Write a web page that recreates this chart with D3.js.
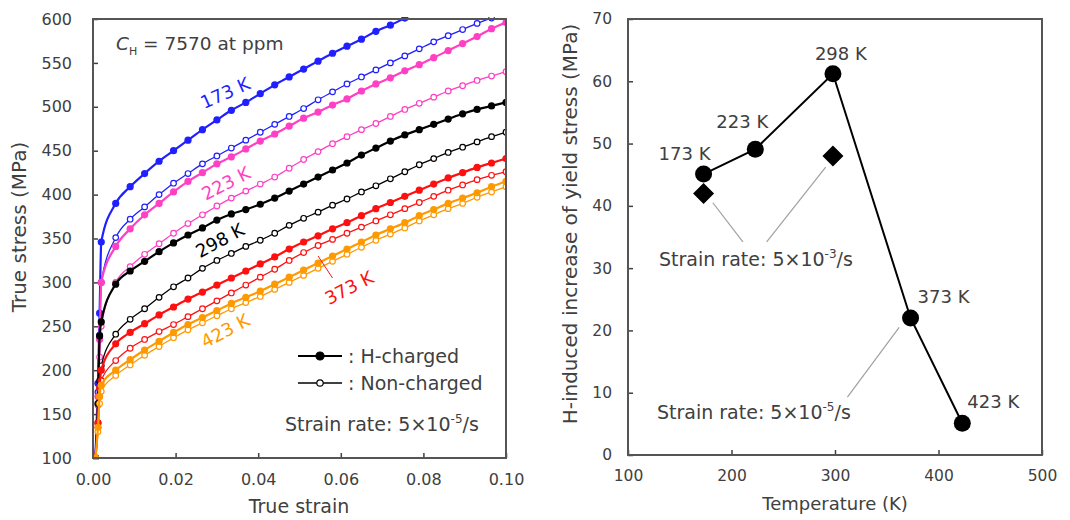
<!DOCTYPE html>
<html>
<head>
<meta charset="utf-8">
<script src="https://cdn.jsdelivr.net/npm/d3@7"></script>
<style type="text/css">
  body {
    margin: 0px;
    background: white;
  }
  svg text {
    font-family: 'DejaVu Sans', 'Liberation Sans', sans-serif;
    fill: #404040;
  }
  .axis path { display: none; }
  .axis line { stroke: #404040; stroke-width: 1.5; }
  .frame { fill: none; stroke: #555; stroke-width: 2; }
</style>
</head>
<body>
<svg id="chart" width="1070" height="520"></svg>
<script>

// ---- left panel: true stress-strain curves ----
var strain = [0.0006, 0.0012, 0.0016, 0.002, 0.0055, 0.009, 0.0125, 0.016, 0.0195, 0.023,
  0.0265, 0.03, 0.0335, 0.037, 0.0405, 0.044, 0.0475, 0.051, 0.0545, 0.058, 0.0615,
  0.065, 0.0685, 0.072, 0.0755, 0.079, 0.0825, 0.086, 0.0895, 0.093, 0.0965, 0.10];

var h173 = [100, 185, 265, 346, 390, 409, 424, 438, 450, 462, 474, 485, 496, 505, 515, 525,
  534, 543, 552, 561, 569, 577, 586, 593, 601, null, null, null, null, null, null, null];
var n173 = [100, 175, 240, 300, 351, 372, 386, 400, 413, 424, 435, 444, 453, 462, 471, 480,
  489, 498, 508, 517, 526, 534, 542, 550, 558, 566, 574, 581, 588, 595, 601, null];
var h223 = [100, 170, 235, 300, 341, 361, 377, 390, 403, 415, 425, 435, 443, 452, 461, 469,
  478, 487, 494, 502, 509, 518, 526, 533, 541, 548, 556, 564, 572, 580, 589, 596];
var n223 = [100, 160, 215, 250, 300, 318, 332, 344, 356, 367, 377, 387, 396, 404, 412, 420,
  430, 440, 449, 458, 466, 474, 481, 489, 497, 504, 511, 518, 524, 530, 535, 540];
var h298 = [100, 162, 239, 255, 298, 313, 324, 335, 345, 354, 362, 371, 378, 383, 389, 396,
  404, 412, 420, 428, 436, 445, 453, 461, 468, 474, 480, 486, 492, 497, 501, 505];
var n298 = [100, 140, 188, 205, 241, 258, 270, 283, 295, 305, 316, 325, 333, 341, 348, 356,
  365, 373, 380, 388, 395, 403, 410, 418, 426, 434, 441, 448, 454, 460, 466, 471];
var h373 = [100, 140, 180, 200, 230, 243, 253, 263, 272, 281, 289, 297, 305, 313, 321, 329,
  338, 346, 353, 361, 368, 376, 384, 391, 398, 405, 412, 419, 425, 431, 436, 441];
var n373 = [100, 135, 170, 188, 211, 225, 235, 244, 252, 261, 270, 279, 288, 297, 306, 315,
  325, 334, 342, 349, 356, 363, 370, 377, 384, 391, 398, 405, 411, 417, 422, 426];
var h423 = [100, 135, 170, 183, 200, 212, 223, 233, 243, 252, 260, 268, 276, 283, 290, 298,
  306, 314, 322, 330, 338, 346, 354, 361, 368, 376, 383, 390, 396, 402, 409, 415];
var n423 = [100, 130, 162, 176, 194, 206, 217, 227, 237, 246, 254, 262, 270, 277, 284, 292,
  300, 308, 316, 324, 332, 340, 348, 355, 362, 370, 377, 384, 390, 397, 403, 409];

var strainTicks = [0, 0.02, 0.04, 0.06, 0.08, 0.10];
var stressTicks = [100, 150, 200, 250, 300, 350, 400, 450, 500, 550, 600];

// ---- right panel: H-induced increase of yield stress ----
var temps = [173, 223, 298, 373, 423];
var increase = [45.1, 49.1, 61.2, 22.0, 5.1];
var tempLabels = ['173 K', '223 K', '298 K', '373 K', '423 K'];
var fastTemps = [173, 298];
var fastIncrease = [42.0, 48.0];

var tempTicks = [100, 200, 300, 400, 500];
var increaseTicks = [0, 10, 20, 30, 40, 50, 60, 70];


var svg = d3.select('#chart');

var curves = [
  { label: '173 K', color: '#1f1fff', h: h173, n: n173, at: [0.032, 516], rot: -24 },
  { label: '223 K', color: '#ff3fc4', h: h223, n: n223, at: [0.0322, 413], rot: -27 },
  { label: '298 K', color: '#000000', h: h298, n: n298, at: [0.0307, 348], rot: -28 },
  { label: '373 K', color: '#ff1010', h: h373, n: n373, at: [0.062, 294], rot: -27 },
  { label: '423 K', color: '#ff9900', h: h423, n: n423, at: [0.032, 245], rot: -28 }
];

var x1 = d3.scaleLinear().domain([0, 0.10]).range([93, 506]);
var y1 = d3.scaleLinear().domain([100, 600]).range([458, 19]);

svg.append('defs').append('clipPath').attr('id', 'clipLeft')
  .append('rect').attr('x', 93).attr('y', 17).attr('width', 413).attr('height', 443);

var left = svg.append('g');

left.append('g')
  .attr('class', 'axis')
  .attr('transform', 'translate(0,458)')
  .call(d3.axisBottom(x1).tickValues(strainTicks).tickFormat(d3.format('.2f'))
    .tickSize(-5).tickPadding(16))
  .selectAll('text').style('font-size', '16px');

left.append('g')
  .attr('class', 'axis')
  .attr('transform', 'translate(93,0)')
  .call(d3.axisLeft(y1).tickValues(stressTicks).tickSize(-5).tickPadding(21))
  .selectAll('text').style('font-size', '16px');

var line = d3.line()
  .defined(function(d) { return d[1] != null; })
  .x(function(d) { return x1(d[0]); })
  .y(function(d) { return y1(d[1]); })
  .curve(d3.curveMonotoneX);

var plotArea = left.append('g').attr('clip-path', 'url(#clipLeft)');

curves.forEach(function(c) {
  var ptsH = strain.map(function(s, i) { return [s, c.h[i]]; });
  var ptsN = strain.map(function(s, i) { return [s, c.n[i]]; });

  plotArea.append('path')
    .attr('d', line(ptsN))
    .attr('fill', 'none').attr('stroke', c.color).attr('stroke-width', 1.3);
  plotArea.selectAll(null)
    .data(ptsN.filter(function(d) { return d[1] != null; }))
    .enter().append('circle')
    .attr('cx', function(d) { return x1(d[0]); })
    .attr('cy', function(d) { return y1(d[1]); })
    .attr('r', 2.8)
    .attr('fill', 'white').attr('stroke', c.color).attr('stroke-width', 1.2);

  plotArea.append('path')
    .attr('d', line(ptsH))
    .attr('fill', 'none').attr('stroke', c.color).attr('stroke-width', 2.2);
  plotArea.selectAll(null)
    .data(ptsH.filter(function(d) { return d[1] != null; }))
    .enter().append('circle')
    .attr('cx', function(d) { return x1(d[0]); })
    .attr('cy', function(d) { return y1(d[1]); })
    .attr('r', 3.6)
    .attr('fill', c.color);
});

// curve labels
curves.forEach(function(c) {
  left.append('text')
    .attr('transform', 'translate(' + x1(c.at[0]) + ',' + y1(c.at[1]) + ') rotate(' + c.rot + ')')
    .attr('text-anchor', 'middle')
    .attr('dominant-baseline', 'central')
    .style('font-size', '18px')
    .style('fill', c.color)
    .text(c.label);
});

// leader for 373 K
left.append('line')
  .attr('x1', x1(0.0545)).attr('y1', y1(330))
  .attr('x2', x1(0.058)).attr('y2', y1(305))
  .attr('stroke', '#ff1010').attr('stroke-width', 1);

left.append('rect').attr('class', 'frame')
  .attr('x', 93).attr('y', 19).attr('width', 413).attr('height', 439);

// C_H text
var ch = left.append('text')
  .attr('x', 116).attr('y', 50)
  .style('font-size', '18.5px');
ch.append('tspan').style('font-style', 'italic').text('C');
ch.append('tspan').attr('dy', 5).style('font-size', '11px').text('H');
ch.append('tspan').attr('dy', -5).text(' = 7570 at ppm');

// legend
var legendRows = [
  { text: ': H-charged', filled: true, y: 356 },
  { text: ': Non-charged', filled: false, y: 383 }
];
legendRows.forEach(function(r) {
  left.append('line')
    .attr('x1', 298).attr('x2', 342).attr('y1', r.y).attr('y2', r.y)
    .attr('stroke', '#000').attr('stroke-width', r.filled ? 2 : 1.3);
  left.append('circle')
    .attr('cx', 320).attr('cy', r.y)
    .attr('r', r.filled ? 4 : 3.2)
    .attr('fill', r.filled ? '#000' : 'white')
    .attr('stroke', '#000').attr('stroke-width', 1.2);
  left.append('text')
    .attr('x', 348).attr('y', r.y + 7)
    .style('font-size', '19px')
    .text(r.text);
});

function rateText(g, x, y, exp) {
  var t = g.append('text').attr('x', x).attr('y', y).style('font-size', '19px');
  t.append('tspan').text('Strain rate: 5\u00d710');
  t.append('tspan').attr('dy', -8).style('font-size', '12px').text('-' + exp);
  t.append('tspan').attr('dy', 8).text('/s');
}
rateText(left, 285, 431, 5);

left.append('text')
  .attr('x', 299).attr('y', 513)
  .attr('text-anchor', 'middle')
  .style('font-size', '19px')
  .text('True strain');

left.append('text')
  .attr('transform', 'translate(26,227) rotate(-90)')
  .attr('text-anchor', 'middle')
  .style('font-size', '20px')
  .text('True stress (MPa)');


// ---- right panel ----
var x2 = d3.scaleLinear().domain([100, 500]).range([628, 1042]);
var y2 = d3.scaleLinear().domain([0, 70]).range([455, 19]);

var right = svg.append('g');

right.append('g')
  .attr('class', 'axis')
  .attr('transform', 'translate(0,455)')
  .call(d3.axisBottom(x2).tickValues(tempTicks).tickSize(-5).tickPadding(15))
  .selectAll('text').style('font-size', '15.5px');

right.append('g')
  .attr('class', 'axis')
  .attr('transform', 'translate(628,0)')
  .call(d3.axisLeft(y2).tickValues(increaseTicks).tickSize(-5).tickPadding(16))
  .selectAll('text').style('font-size', '15.5px');

right.append('rect').attr('class', 'frame')
  .attr('x', 628).attr('y', 19).attr('width', 414).attr('height', 436);

// gray leader lines to the rate notes
var leaders = [
  [[182, 40.5], [211, 34.2]],
  [[234, 34.2], [291, 46.2]],
  [[312, 9.3], [362, 20.5]]
];
leaders.forEach(function(l) {
  right.append('line')
    .attr('x1', x2(l[0][0])).attr('y1', y2(l[0][1]))
    .attr('x2', x2(l[1][0])).attr('y2', y2(l[1][1]))
    .attr('stroke', '#a0a0a0').attr('stroke-width', 1.2);
});

var pts = temps.map(function(t, i) { return [t, increase[i]]; });

right.append('path')
  .attr('d', d3.line().x(function(d) { return x2(d[0]); }).y(function(d) { return y2(d[1]); })(pts))
  .attr('fill', 'none').attr('stroke', '#000').attr('stroke-width', 2);

right.selectAll('.pt')
  .data(pts)
  .enter().append('circle')
  .attr('class', 'pt')
  .attr('cx', function(d) { return x2(d[0]); })
  .attr('cy', function(d) { return y2(d[1]); })
  .attr('r', 8.5)
  .attr('fill', '#000');

var diamonds = fastTemps.map(function(t, i) { return [t, fastIncrease[i]]; });
right.selectAll('.dia')
  .data(diamonds)
  .enter().append('path')
  .attr('class', 'dia')
  .attr('d', function(d) {
    var cx = x2(d[0]), cy = y2(d[1]), s = 10.5;
    return 'M' + cx + ',' + (cy - s) + 'L' + (cx + s) + ',' + cy +
      'L' + cx + ',' + (cy + s) + 'L' + (cx - s) + ',' + cy + 'Z';
  })
  .attr('fill', '#000');

var labelOffsets = [[-45, -14], [-39, -21], [-18, -14], [7, -15], [5, -15]];
pts.forEach(function(d, i) {
  right.append('text')
    .attr('x', x2(d[0]) + labelOffsets[i][0])
    .attr('y', y2(d[1]) + labelOffsets[i][1])
    .style('font-size', '18px')
    .text(tempLabels[i]);
});

rateText(right, x2(130), y2(30.3), 3);
rateText(right, x2(128), y2(5.8), 5);

right.append('text')
  .attr('x', 835).attr('y', 510)
  .attr('text-anchor', 'middle')
  .style('font-size', '18px')
  .text('Temperature (K)');

right.append('text')
  .attr('transform', 'translate(577,224) rotate(-90)')
  .attr('text-anchor', 'middle')
  .style('font-size', '20px')
  .text('H-induced increase of yield stress (MPa)');

</script>
</body>
</html>
